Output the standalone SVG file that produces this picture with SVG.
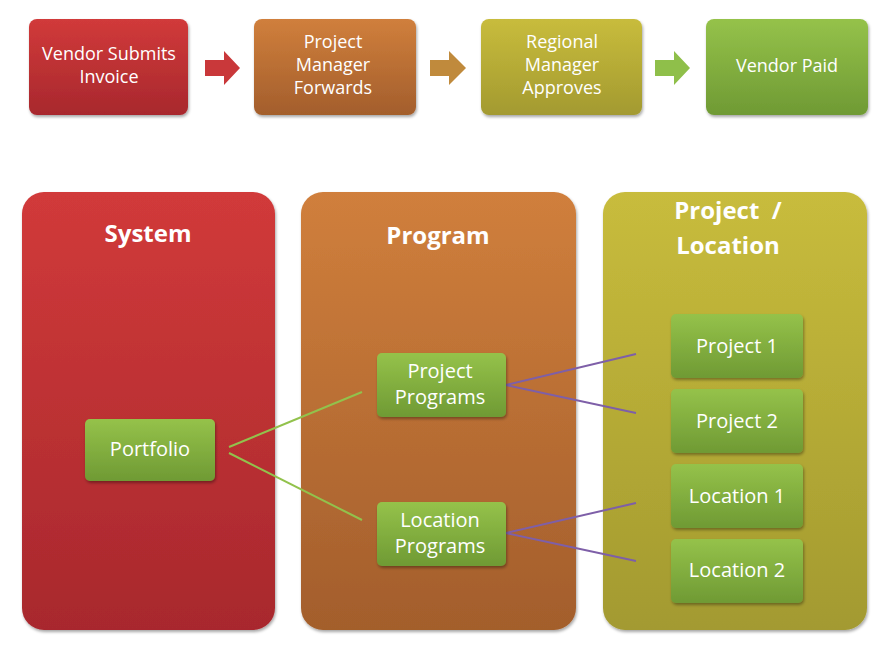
<svg xmlns="http://www.w3.org/2000/svg" width="888" height="653" viewBox="0 0 888 653">
<defs>
<linearGradient id="gr" x1="0" y1="0" x2="0" y2="1"><stop offset="0" stop-color="#d13a3a"/><stop offset="1" stop-color="#a8282d"/></linearGradient>
<linearGradient id="go" x1="0" y1="0" x2="0" y2="1"><stop offset="0" stop-color="#d07f3c"/><stop offset="1" stop-color="#a35e2c"/></linearGradient>
<linearGradient id="gy" x1="0" y1="0" x2="0" y2="1"><stop offset="0" stop-color="#c8bc3c"/><stop offset="1" stop-color="#a39a30"/></linearGradient>
<linearGradient id="gg" x1="0" y1="0" x2="0" y2="1"><stop offset="0" stop-color="#95c24a"/><stop offset="1" stop-color="#6f9a34"/></linearGradient>
<filter id="sh" x="-10%" y="-10%" width="130%" height="130%"><feDropShadow dx="1" dy="2" stdDeviation="1.5" flood-opacity="0.35"/></filter>
</defs>
<style>
text{font-family:"Open Sans","DejaVu Sans",sans-serif;fill:#fff;text-anchor:middle}
.t{font-size:18px}
.h{font-size:24px;font-weight:bold}
.n{font-size:20px}
.c{fill:none;stroke-width:2}
</style>
<rect width="888" height="653" fill="#fff"/>
<g id="step1"><rect x="29" y="19" width="159" height="96" rx="8" fill="url(#gr)" filter="url(#sh)"/><text class="t" x="109" y="60">Vendor Submits</text><text class="t" x="109" y="83">Invoice</text></g>
<g id="step2"><rect x="254" y="19" width="162" height="96" rx="8" fill="url(#go)" filter="url(#sh)"/><text class="t" x="333" y="48">Project</text><text class="t" x="333" y="71">Manager</text><text class="t" x="333" y="94">Forwards</text></g>
<g id="step3"><rect x="481" y="19" width="161" height="96" rx="8" fill="url(#gy)" filter="url(#sh)"/><text class="t" x="562" y="48">Regional</text><text class="t" x="562" y="71">Manager</text><text class="t" x="562" y="94">Approves</text></g>
<g id="step4"><rect x="706" y="19" width="162" height="96" rx="8" fill="url(#gg)" filter="url(#sh)"/><text class="t" x="787" y="72">Vendor Paid</text></g>
<g id="arrows">
<polygon points="205,60 224,60 224,51 240,68 224,85 224,76 205,76" fill="#c9383a"/>
<polygon points="430,60 449,60 449,51 466,68 449,85 449,76 430,76" fill="#c08a3c"/>
<polygon points="655,60 674,60 674,51 690,68 674,85 674,76 655,76" fill="#8fbf4a"/>
</g>
<g id="system"><rect x="22" y="192" width="253" height="438" rx="22" fill="url(#gr)" filter="url(#sh)"/><text class="h" x="148" y="242">System</text></g>
<g id="program"><rect x="301" y="192" width="275" height="438" rx="22" fill="url(#go)" filter="url(#sh)"/><text class="h" x="438" y="244">Program</text></g>
<g id="projloc"><rect x="603" y="192" width="264" height="438" rx="22" fill="url(#gy)" filter="url(#sh)"/><text class="h" x="728" y="219" xml:space="preserve">Project  /</text><text class="h" x="728" y="254">Location</text></g>
<g id="connectors">
<line class="c" stroke="#92c24c" x1="229" y1="447" x2="362" y2="392"/>
<line class="c" stroke="#92c24c" x1="229" y1="453" x2="362" y2="520"/>
<line class="c" stroke="#7e5fa8" x1="506" y1="385" x2="636" y2="354"/>
<line class="c" stroke="#7e5fa8" x1="506" y1="385" x2="636" y2="413"/>
<line class="c" stroke="#7e5fa8" x1="506" y1="533" x2="636" y2="503"/>
<line class="c" stroke="#7e5fa8" x1="506" y1="533" x2="636" y2="561"/>
</g>
<g id="portfolio"><rect x="85" y="419" width="130" height="62" rx="5" fill="url(#gg)" filter="url(#sh)"/><text class="n" x="150" y="456">Portfolio</text></g>
<g id="projprog"><rect x="377" y="353" width="129" height="64" rx="5" fill="url(#gg)" filter="url(#sh)"/><text class="n" x="440" y="378">Project</text><text class="n" x="440" y="404">Programs</text></g>
<g id="locprog"><rect x="377" y="502" width="129" height="64" rx="5" fill="url(#gg)" filter="url(#sh)"/><text class="n" x="440" y="527">Location</text><text class="n" x="440" y="553">Programs</text></g>
<g id="p1"><rect x="671" y="314" width="132" height="64" rx="5" fill="url(#gg)" filter="url(#sh)"/><text class="n" x="737" y="353">Project 1</text></g>
<g id="p2"><rect x="671" y="389" width="132" height="64" rx="5" fill="url(#gg)" filter="url(#sh)"/><text class="n" x="737" y="428">Project 2</text></g>
<g id="l1"><rect x="671" y="464" width="132" height="64" rx="5" fill="url(#gg)" filter="url(#sh)"/><text class="n" x="737" y="503">Location 1</text></g>
<g id="l2"><rect x="671" y="539" width="132" height="64" rx="5" fill="url(#gg)" filter="url(#sh)"/><text class="n" x="737" y="577">Location 2</text></g>
</svg>
